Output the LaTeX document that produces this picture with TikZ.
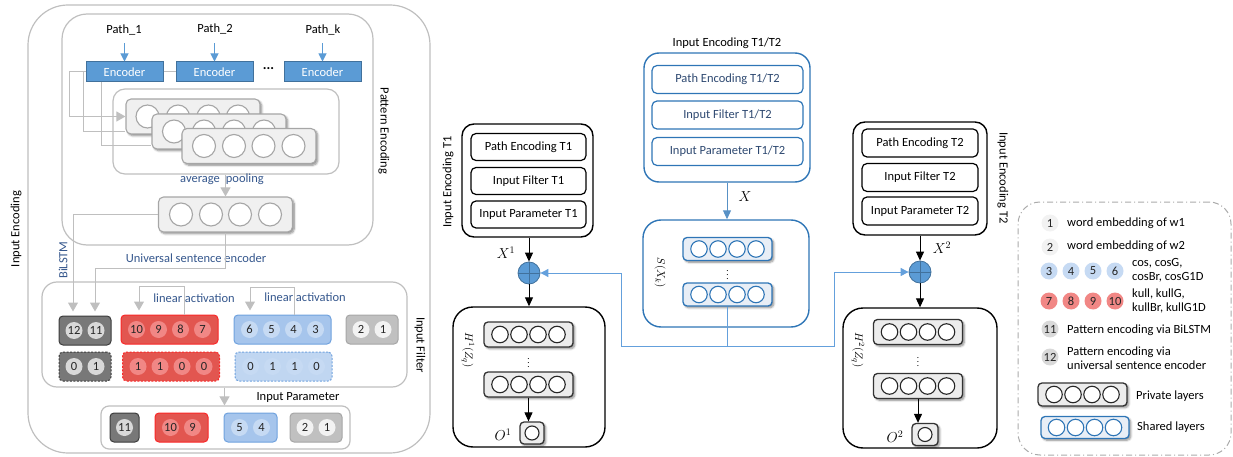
\documentclass[tikz,border=0pt]{standalone}
\usepackage{fontspec}
\setmainfont{Carlito}
\usetikzlibrary{arrows.meta,shadows.blur}

\definecolor{framegray}{RGB}{191,191,191}
\definecolor{linkgray}{RGB}{191,191,191}
\definecolor{encblue}{RGB}{91,155,213}
\definecolor{encedge}{RGB}{65,113,156}
\definecolor{notecol}{RGB}{52,86,140}
\definecolor{cardfill}{RGB}{240,240,240}
\definecolor{cardedge}{RGB}{166,166,166}
\definecolor{dkfill}{RGB}{120,120,120}
\definecolor{dkedge}{RGB}{60,60,60}
\definecolor{dkdot}{RGB}{217,217,217}
\definecolor{redfill}{RGB}{226,86,80}
\definecolor{rededge}{RGB}{250,40,40}
\definecolor{reddot}{RGB}{241,135,133}
\definecolor{bluefill}{RGB}{166,197,236}
\definecolor{bluefill2}{RGB}{192,214,241}
\definecolor{blueedge}{RGB}{112,162,222}
\definecolor{bluedot}{RGB}{198,218,243}
\definecolor{ltfill}{RGB}{192,192,192}
\definecolor{ltedge}{RGB}{166,166,166}
\definecolor{ltdot}{RGB}{242,242,242}
\definecolor{shedge}{RGB}{46,117,182}
\definecolor{shfill}{RGB}{232,238,246}
\definecolor{shtext}{RGB}{45,72,112}
\definecolor{linkblue}{RGB}{100,160,220}
\definecolor{privfill}{RGB}{236,236,236}
\definecolor{legedge}{RGB}{170,170,170}

\tikzset{
  sz/.style 2 args={minimum width=#1pt, minimum height=#2pt},
  panel/.style={draw=framegray, line width=1.2pt, rectangle, rounded corners=#1, inner sep=0pt},
  kpanel/.style={draw=black, line width=1.4pt, rectangle, rounded corners=#1, inner sep=0pt},
  bpanel/.style={draw=shedge, line width=1.4pt, rectangle, rounded corners=#1, inner sep=0pt},
  kin/.style={draw=black, line width=1.2pt, rectangle, rounded corners=5pt, inner sep=0pt},
  bin/.style={draw=shedge, line width=1.2pt, rectangle, rounded corners=5pt, inner sep=0pt, text=shtext},
  encbox/.style={draw=encedge, fill=encblue, line width=1pt, text=white, inner sep=0pt, sz={77}{20}},
  lbl/.style={inner sep=1pt},
  note/.style={text=notecol, inner sep=1pt},
  mathlbl/.style={inner sep=1pt, font=\fontsize{14}{14}\selectfont},
  rotlbl/.style={inner sep=1pt, rotate=-90, font=\fontsize{11}{11}\selectfont},
  vdotlbl/.style={inner sep=0pt, font=\fontsize{9}{9}\selectfont},
  softshadow/.style={blur shadow={shadow xshift=1.8pt, shadow yshift=-1.8pt, shadow blur steps=6, shadow blur radius=2pt, shadow opacity=45}},
  lcard/.style={draw=cardedge, fill=cardfill, line width=1.1pt, rectangle, rounded corners=5pt, inner sep=0pt, softshadow, sz={134}{35}},
  lring/.style={circle, draw=cardedge, fill=white, line width=1.1pt, minimum size=23pt, inner sep=0pt},
  pcard/.style={draw=black!80, fill=privfill, line width=1.3pt, rectangle, rounded corners=4pt, inner sep=0pt, softshadow, sz={89}{25}},
  pring/.style={circle, draw=black!85, fill=white, line width=1.1pt, minimum size=16.5pt, inner sep=0pt},
  scard/.style={draw=shedge, fill=shfill, line width=1.3pt, rectangle, rounded corners=4pt, inner sep=0pt, softshadow, sz={89}{23}},
  sring/.style={circle, draw=shedge, fill=white, line width=1.1pt, minimum size=16.5pt, inner sep=0pt},
  gline/.style={draw=linkgray, line width=1pt},
  garrow/.style={gline, -{Triangle[width=10pt,length=9pt]}},
  barrow/.style={draw=encblue, line width=1pt, -{Triangle[width=8pt,length=8pt]}},
  karrow/.style={draw=black, line width=1pt, -{Triangle[width=8pt,length=9pt]}},
  xarrow/.style={draw=shedge!80, line width=1pt, -{Triangle[width=8pt,length=9pt]}},
  sarrow/.style={draw=linkblue, line width=0.9pt, -{Triangle[width=8pt,length=8pt]}},
  fbox/.style={rectangle, rounded corners=4pt, line width=1pt, inner sep=0pt, sz={#1}{29}},
  num/.style={circle, inner sep=0pt, minimum size=17pt, text=black!85},
  oplus/.style={circle, draw=encedge, fill=encblue, line width=0.8pt, minimum size=22pt, inner sep=0pt},
}

% numbered discs inside a box: box name, disc colour, list of label/offset
\newcommand{\placenums}[3]{%
  \foreach \t/\o [count=\i] in {#3} \node[num, fill=#2] (#1-\i) at ([xshift=\o pt]#1.center) {\t};}
% rings inside a card: card name, ring style, list of offsets
\newcommand{\placerings}[3]{%
  \foreach \o [count=\i] in {#3} \node[#2] (#1-\i) at ([xshift=\o pt]#1.center) {};}

\begin{document}
\begin{tikzpicture}[x=1pt, y=-1pt, font=\fontsize{12.5}{14}\selectfont]
\useasboundingbox (0,0) rectangle (1233,457);

%% ---------------- Input encoding (left panel) ----------------
\node[panel=40pt, sz={402}{448}] (ienc) at (229,229) {};
\node[lbl, rotate=90] (iencl) at (16,229) {Input Encoding};

% pattern encoding
\node[panel=25pt, sz={311}{231}] (penc) at (217.5,129.5) {};
\node[lbl, rotate=-90] (pencl) at (384,131) {Pattern Encoding};

\node[lbl] (p1) at (124,30) {Path\_1};
\node[lbl] (p2) at (215,29) {Path\_2};
\node[lbl] (pk) at (323,30) {Path\_k};
\node[encbox] (enc1) at (124.5,72) {Encoder};
\node[encbox] (enc2) at (214.5,72) {Encoder};
\node[encbox] (enc3) at (322.5,72) {Encoder};
\node[inner sep=0pt, font=\fontsize{14}{14}\selectfont\bfseries] (edots) at (268.5,69) {...};
\draw[barrow] ([yshift=18pt]enc1.north) -- (enc1.north);
\draw[barrow] ([yshift=18pt]enc2.north) -- (enc2.north);
\draw[barrow] ([yshift=18pt]enc3.north) -- (enc3.north);
\draw[gline] (enc1.east) -- (enc2.west);

\node[panel=12pt, sz={226}{85}] (stk) at (226,131.5) {};
\node[lcard] (st1) at (193,116.5) {};
\placerings{st1}{lring}{-45.5,-15,15.5,45}
\node[lcard] (st2) at (219,131.5) {};
\placerings{st2}{lring}{-45,-15,15,45}
\node[lcard] (st3) at (249,146) {};
\placerings{st3}{lring}{-45,-15,14.5,44.5}

% encoder outputs fed to the stacked states (later parts run behind the front cards)
\draw[garrow] (enc1.west) -- ++(-16,0) |- (st1.west);
\draw[gline] ([xshift=-2pt]enc1.west) |- (st1.west |- st2.west);
\draw[gline] ([xshift=-23pt]enc1.south) |- (st2.west |- st3.west);

\node[note] (avgl) at (222,179) {average\hspace{6pt}pooling};
\node[lcard] (pool) at (225.5,214.5) {};
\placerings{pool}{lring}{-44.5,-14.5,14.5,44.5}
\draw[garrow] (pool.north |- stk.south) -- (pool.north);

\node[note, rotate=90] (bil) at (63,260) {BiLSTM};
\node[note] (usel) at (196,258) {Universal sentence encoder};

% input filter
\node[panel=15pt, sz={365}{105}] (filt) at (224.5,334.5) {};
\node[lbl, rotate=-90] (filtl) at (420,345) {Input Filter};

\node[fbox=52, draw=dkedge, fill=dkfill] (fdk1) at (85,330.5) {};
\placenums{fdk1}{dkdot}{12/-11, 11/11}
\node[fbox=97, draw=rededge, fill=redfill] (frd1) at (169.5,329.5) {};
\placenums{frd1}{reddot}{10/-33, 9/-11, 8/11, 7/33}
\node[fbox=97, draw=blueedge, fill=bluefill] (fbl1) at (282.5,329.5) {};
\placenums{fbl1}{bluedot}{6/-33, 5/-11, 4/11, 3/33}
\node[fbox=52, draw=ltedge, fill=ltfill] (flt1) at (372,329.5) {};
\placenums{flt1}{ltdot}{2/-11, 1/11}

\node[fbox=52, draw=dkedge, fill=dkfill, dash pattern=on 2pt off 1.5pt] (fdk2) at (85,366.5) {};
\placenums{fdk2}{dkdot}{0/-11, 1/11}
\node[fbox=97, draw=rededge, fill=redfill, dash pattern=on 2pt off 1.5pt] (frd2) at (171,366.5) {};
\placenums{frd2}{reddot}{1/-33, 1/-11, 0/11, 0/33}
\node[fbox=97, draw=blueedge, fill=bluefill2, dash pattern=on 2pt off 1.5pt] (fbl2) at (283.5,366.5) {};
\placenums{fbl2}{bluedot}{0/-33, 1/-11, 1/11, 0/33}

% pattern encodings into the filter
\draw[garrow] (pool.west) -| ([xshift=-12pt,yshift=4pt]fdk1.north);
\draw[garrow] (pool.south) -- ++(0,36) -| ([xshift=10pt,yshift=4pt]fdk1.north);

\draw[garrow] ([xshift=14.5pt]frd1.north) -- ++(0,-28) -| ([xshift=-30.5pt,yshift=4pt]frd1.north);
\draw[garrow] ([xshift=11.5pt]fbl1.north) -- ++(0,-27) -| ([xshift=-32.5pt,yshift=4pt]fbl1.north);
\node[note] (lin1) at (194,298) {linear activation};
\node[note] (lin2) at (305,297) {linear activation};

% input parameter
\node[panel=8pt, sz={249}{43}] (par) at (225.5,427.5) {};
\draw[garrow] (filt.south) -- (filt.south |- par.north);
\node[lbl] (parl) at (298,397) {Input Parameter};
\node[fbox=29, draw=dkedge, fill=dkfill] (pdk) at (124.5,427.5) {};
\placenums{pdk}{dkdot}{11/0}
\node[fbox=53, draw=rededge, fill=redfill] (prd) at (181.5,427.5) {};
\placenums{prd}{reddot}{10/-11, 9/11}
\node[fbox=53, draw=blueedge, fill=bluefill] (pbl) at (250.5,427.5) {};
\placenums{pbl}{bluedot}{5/-11, 4/11}
\node[fbox=52, draw=ltedge, fill=ltfill] (plt) at (316,427.5) {};
\placenums{plt}{ltdot}{2/-11, 1/11}

%% ---------------- Task 1 ----------------
\node[kpanel=12pt, sz={131}{113}] (ie1) at (527.5,180.5) {};
\node[kin, sz={115}{27}] (ie1a) at (528.5,147) {Path Encoding T1};
\node[kin, sz={115}{27}] (ie1b) at (528.5,181) {Input Filter T1};
\node[kin, sz={115}{27}] (ie1c) at (528.5,214.5) {Input Parameter T1};
\node[lbl, rotate=90] (ie1l) at (448,182) {Input Encoding T1};
\node[oplus] (op1) at (529,273) {};
\draw[encedge, line width=1pt] (op1.north) -- (op1.south) (op1.west) -- (op1.east);
\draw[karrow] (op1.north |- ie1.south) -- (op1.north);
\node[mathlbl] (x1) at (506,253) {$X^1$};
\node[kpanel=20pt, sz={152}{140}] (pv1) at (529,377) {};
\draw[karrow] (op1.south) -- (op1.south |- pv1.north);
\node[pcard] (pv1a) at (528.5,334.5) {};
\placerings{pv1a}{pring}{-28.5,-9.5,9.5,28.5}
\node[vdotlbl] (pv1d) at (528.5,360) {$\vdots$};
\node[pcard] (pv1b) at (528.5,384.5) {};
\placerings{pv1b}{pring}{-28.5,-9.5,9.5,28.5}
\node[pcard, sz={24}{22}] (o1) at (532,433) {};
\node[pring, minimum size=14pt] (o1r) at (o1.center) {};
\draw[karrow] (pv1b.south) -- (pv1b.south |- o1.north);
\node[mathlbl] (o1l) at (503,435) {$O^1$};
\node[rotlbl] (h1l) at (468,350) {$H^1(Z_q)$};

%% ---------------- shared encoding ----------------
\node[lbl] (ie12l) at (727,43) {Input Encoding T1/T2};
\node[bpanel=15pt, sz={166}{129}] (ie12) at (727,117.5) {};
\node[bin, sz={151}{28}] (ie12a) at (727.5,79.5) {Path Encoding T1/T2};
\node[bin, sz={151}{28}] (ie12b) at (727.5,115) {Input Filter T1/T2};
\node[bin, sz={151}{28}] (ie12c) at (727.5,151.5) {Input Parameter T1/T2};
\node[bpanel=18pt, sz={166}{107}] (sh) at (726,273.5) {};
\draw[xarrow] (ie12.south) -- (ie12.south |- sh.north);
\node[mathlbl] (xl) at (745,197) {$X$};
\node[scard] (sc1) at (727.5,249) {};
\placerings{sc1}{sring}{-28.5,-9.5,9.5,28.5}
\node[vdotlbl] (scd) at (727.5,272) {$\vdots$};
\node[scard] (sc2) at (727.5,294.5) {};
\placerings{sc2}{sring}{-28.5,-9.5,9.5,28.5}
\node[rotlbl] (sxl) at (660,273) {$S(X_k)$};

%% ---------------- Task 2 ----------------
\node[kpanel=12pt, sz={134}{113}] (ie2) at (920,178.5) {};
\node[kin, sz={116}{28}] (ie2a) at (920,143) {Path Encoding T2};
\node[kin, sz={116}{28}] (ie2b) at (920,177.5) {Input Filter T2};
\node[kin, sz={116}{28}] (ie2c) at (920,211) {Input Parameter T2};
\node[lbl, rotate=-90] (ie2l) at (1003,178) {Input Encoding T2};
\node[oplus] (op2) at (920,272) {};
\draw[encedge, line width=1pt] (op2.north) -- (op2.south) (op2.west) -- (op2.east);
\draw[karrow] (op2.north |- ie2.south) -- (op2.north);
\node[mathlbl] (x2) at (942,248) {$X^2$};
\node[kpanel=20pt, sz={154}{140}] (pv2) at (920,378) {};
\draw[karrow] (op2.south) -- (op2.south |- pv2.north);
\node[pcard] (pv2a) at (918,332) {};
\placerings{pv2a}{pring}{-28.5,-9.5,9.5,28.5}
\node[vdotlbl] (pv2d) at (918,359) {$\vdots$};
\node[pcard] (pv2b) at (918,386) {};
\placerings{pv2b}{pring}{-28.5,-9.5,9.5,28.5}
\node[pcard, sz={26}{22}] (o2) at (925,434.5) {};
\node[pring, minimum size=14pt] (o2r) at (o2.center) {};
\draw[karrow] (pv2b.south) -- (pv2b.south |- o2.north);
\node[mathlbl] (o2l) at (895,437) {$O^2$};
\node[rotlbl] (h2l) at (858,350) {$H^2(Z_q)$};

% shared output feeds both tasks
\coordinate (bl) at (621,346);
\coordinate (br) at (834,346);
\draw[sarrow] (sc2.south) |- (bl) |- (op1.east);
\draw[sarrow] (sc2.south) |- (br) |- (op2.west);

%% ---------------- legend ----------------
\node[draw=legedge, line width=1pt, dash pattern=on 6pt off 3pt on 1pt off 3pt, rectangle, rounded corners=22pt, inner sep=0pt, sz={213}{253}] (leg) at (1124.5,328.5) {};
\node[num, fill=ltdot] (lg1) at (1050,223) {1};
\node[lbl, anchor=west] (lg1t) at (1066,223) {word embedding of w1};
\node[num, fill=ltdot] (lg2) at (1050,247) {2};
\node[lbl, anchor=west] (lg2t) at (1066,246) {word embedding of w2};
\foreach \t/\x [count=\i] in {3/1049,4/1071,5/1093,6/1115}
  \node[num, fill=bluedot] (lgb\i) at (\x,271) {\t};
\node[lbl, anchor=west, align=left] (lgbt) at (1131,270) {cos, cosG,\\cosBr, cosG1D};
\foreach \t/\x [count=\i] in {7/1049,8/1071,9/1093,10/1115}
  \node[num, fill=reddot] (lgr\i) at (\x,301) {\t};
\node[lbl, anchor=west, align=left] (lgrt) at (1131,300.5) {kull, kullG,\\kullBr, kullG1D};
\node[num, fill=dkdot] (lg11) at (1050,329) {11};
\node[lbl, anchor=west] (lg11t) at (1066,330) {Pattern encoding via BiLSTM};
\node[num, fill=dkdot] (lg12) at (1050,357) {12};
\node[lbl, anchor=west, align=left] (lg12t) at (1066,358) {Pattern encoding via\\universal sentence encoder};
\node[pcard, sz={89}{23}] (lgp) at (1082.5,394.5) {};
\placerings{lgp}{pring}{-28.5,-9.5,9.5,28.5}
\node[lbl, anchor=west] (lgpt) at (1135,396) {Private layers};
\node[scard, sz={88}{22}] (lgs) at (1085,427.5) {};
\placerings{lgs}{sring}{-28.5,-9.5,9.5,28.5}
\node[lbl, anchor=west] (lgst) at (1136,427) {Shared layers};

\end{tikzpicture}
\end{document}
